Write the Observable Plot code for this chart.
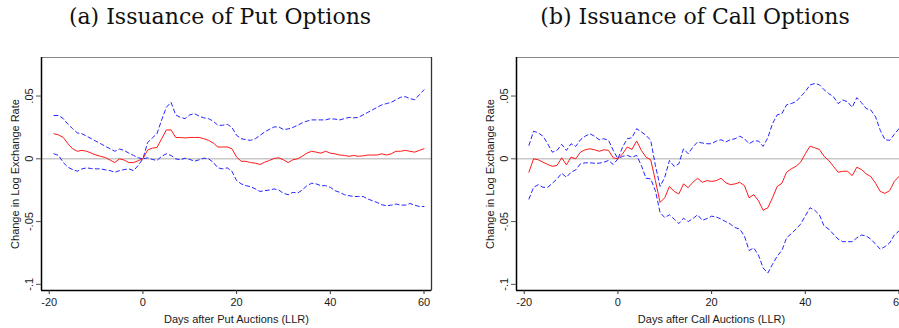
<!DOCTYPE html>
<html>
<head>
<meta charset="utf-8">
<script src="https://cdn.jsdelivr.net/npm/d3@7"></script>
<script src="https://cdn.jsdelivr.net/npm/@observablehq/plot@0.6"></script>
<style>
  html, body { margin: 0; padding: 0; background: #fff; }
  body { width: 899px; height: 328px; overflow: hidden; position: relative; }
  .panel { position: absolute; top: 0; width: 445px; height: 328px; }
  .title { position: absolute; top: 0; left: 0; width: 440px; height: 40px; line-height: 34px;
           text-align: center; font-family: "DejaVu Serif", serif; font-size: 22px; color: #111; white-space: nowrap; }
  .chart { position: absolute; top: 40px; left: 0; }
</style>
</head>
<body>
<div class="panel" id="pa" style="left:0px"><div class="title" id="ta"></div><div class="chart" id="ca"></div></div>
<div class="panel" id="pb" style="left:475px"><div class="title" id="tb"></div><div class="chart" id="cb"></div></div>
<script>
const titles = ["(a) Issuance of Put Options", "(b) Issuance of Call Options"];
const xTitles = ["Days after Put Auctions (LLR)", "Days after Call Auctions (LLR)"];
const yTitle = "Change in Log Exchange Rate";
const xTicks = [-20, 0, 20, 40, 60];
const xTickLabels = ["-20", "0", "20", "40", "60"];
const yTicks = [0.05, 0, -0.05, -0.1];
const yTickLabels = [".05", "0", "-.05", "-.1"];

const days = [-19,-18,-17,-16,-15,-14,-13,-12,-11,-10,-9,-8,-7,-6,-5,-4,-3,-2,-1,0,
  1,2,3,4,5,6,7,8,9,10,11,12,13,14,15,16,17,18,19,20,
  21,22,23,24,25,26,27,28,29,30,31,32,33,34,35,36,37,38,39,40,
  41,42,43,44,45,46,47,48,49,50,51,52,53,54,55,56,57,58,59,60];

const putEst = [0.020,0.019,0.017,0.012,0.008,0.006,0.0067,0.006,0.0045,0.003,0.002,0.001,-0.001,-0.003,0,-0.001,-0.003,-0.003,-0.0015,0,
  0.007,0.0085,0.009,0.016,0.023,0.023,0.017,0.017,0.0166,0.017,0.017,0.017,0.016,0.0147,0.0126,0.0094,0.0094,0.0094,0.008,0.0013,
  -0.002,-0.002,-0.003,-0.0035,-0.0045,-0.0027,-0.0013,0.0003,0.0008,-0.0008,-0.003,-0.0008,0,0.002,0.0045,0.006,0.0053,0.0045,0.006,0.0045,
  0.004,0.003,0.0027,0.002,0.0027,0.002,0.0024,0.003,0.003,0.003,0.004,0.003,0.004,0.006,0.006,0.0067,0.006,0.0053,0.0067,0.008];
const putUpper = [0.0345,0.0345,0.032,0.0275,0.024,0.0206,0.020,0.018,0.016,0.014,0.012,0.0099,0.008,0.006,0.0078,0.0067,0.0045,0.0027,0.0008,0,
  0.013,0.0166,0.020,0.031,0.041,0.045,0.035,0.033,0.032,0.035,0.036,0.034,0.0326,0.032,0.030,0.0267,0.0267,0.0275,0.025,0.0187,
  0.016,0.0152,0.0147,0.016,0.0187,0.0214,0.0235,0.0254,0.0254,0.0233,0.0238,0.025,0.0267,0.0286,0.030,0.031,0.031,0.031,0.031,0.032,
  0.0316,0.031,0.032,0.033,0.0326,0.033,0.035,0.037,0.039,0.041,0.043,0.044,0.045,0.047,0.049,0.0495,0.048,0.047,0.051,0.055];
const putLower = [0.004,0.0027,-0.003,-0.0067,-0.0086,-0.0099,-0.008,-0.0072,-0.0078,-0.008,-0.008,-0.0088,-0.0094,-0.0107,-0.0094,-0.0086,-0.008,-0.0094,-0.0053,0,
  0.0008,-0.0005,-0.0013,0.002,0.004,0.0027,0,-0.0008,0.0005,-0.0005,-0.0019,-0.0008,0.0005,0,-0.0027,-0.0072,-0.008,-0.0072,-0.0099,-0.0174,
  -0.020,-0.0214,-0.0222,-0.024,-0.026,-0.0254,-0.0249,-0.024,-0.0249,-0.0275,-0.0286,-0.0267,-0.0273,-0.0249,-0.0214,-0.0195,-0.020,-0.0214,-0.0214,-0.0227,
  -0.0254,-0.0267,-0.0286,-0.0294,-0.030,-0.030,-0.030,-0.032,-0.0334,-0.0348,-0.0366,-0.0374,-0.0369,-0.036,-0.0369,-0.0369,-0.0356,-0.0369,-0.038,-0.038];

const callEst = [-0.0107,0,-0.0008,-0.0027,-0.0045,-0.006,-0.0053,0.0008,-0.0048,0.0013,0,0.0053,0.0072,0.008,0.0072,0.006,0.0072,0.0067,0.0008,0,
  0.004,0.0094,0.0075,0.0142,0.0067,0.0013,-0.0008,-0.0174,-0.0348,-0.031,-0.022,-0.026,-0.028,-0.020,-0.023,-0.0187,-0.0155,-0.0187,-0.0174,-0.018,
  -0.0174,-0.0155,-0.019,-0.0206,-0.020,-0.0187,-0.0214,-0.031,-0.0286,-0.0334,-0.041,-0.039,-0.031,-0.022,-0.0195,-0.0107,-0.008,-0.006,-0.0027,0.004,
  0.010,0.0088,0.0075,0.002,-0.0013,-0.006,-0.0107,-0.0099,-0.0099,-0.0134,-0.0067,-0.0086,-0.012,-0.0142,-0.0195,-0.026,-0.0275,-0.0254,-0.018,-0.014];
const callUpper = [0.0107,0.022,0.0206,0.018,0.012,0.0053,0.0067,0.0115,0.0067,0.012,0.0099,0.0152,0.018,0.020,0.018,0.0152,0.016,0.0147,0.0067,0,
  0.0094,0.016,0.0168,0.024,0.0214,0.0187,0.0147,-0.0053,-0.022,-0.0147,-0.0013,-0.006,-0.004,0.008,0.004,0.0094,0.0134,0.0126,0.012,0.012,
  0.0142,0.0152,0.0134,0.0152,0.016,0.018,0.016,0.012,0.0142,0.0142,0.0099,0.0168,0.028,0.035,0.036,0.043,0.044,0.0455,0.0495,0.0535,
  0.0588,0.060,0.059,0.055,0.052,0.0495,0.044,0.0468,0.0455,0.041,0.0487,0.0447,0.040,0.0388,0.0334,0.0227,0.0152,0.0147,0.0195,0.024];
const callLower = [-0.032,-0.0227,-0.0206,-0.0227,-0.0227,-0.0195,-0.016,-0.0115,-0.0147,-0.0107,-0.0088,-0.004,-0.0032,-0.0032,-0.0035,-0.0035,-0.0027,-0.0013,-0.0045,0,
  0.002,0.0027,0.0013,0.0027,-0.0053,-0.0155,-0.016,-0.0254,-0.0428,-0.0468,-0.0446,-0.048,-0.0516,-0.0473,-0.050,-0.0476,-0.0446,-0.049,-0.0476,-0.0457,
  -0.0463,-0.048,-0.050,-0.052,-0.0548,-0.056,-0.0615,-0.073,-0.071,-0.0767,-0.087,-0.091,-0.084,-0.0775,-0.073,-0.063,-0.0596,-0.056,-0.052,-0.0455,
  -0.039,-0.041,-0.0446,-0.0535,-0.056,-0.060,-0.064,-0.066,-0.066,-0.066,-0.063,-0.0607,-0.0615,-0.064,-0.068,-0.072,-0.070,-0.067,-0.0607,-0.0575];

const xDomain = [-21.65, 61.6];
const yDomain = [-0.1049, 0.0807];

function panel(est, upper, lower, xTitle) {
  const rows = days.map((d, i) => ({d, est: est[i], up: upper[i], lo: lower[i]}));
  const font = "Liberation Sans, Arial, sans-serif";
  return Plot.plot({
    width: 445,
    height: 288,
    marginLeft: 41,
    marginRight: 14,
    marginTop: 17,
    marginBottom: 38,
    style: {fontFamily: font, fontSize: "11px", color: "#1a1a1a", background: "#fff", overflow: "visible"},
    x: {domain: xDomain},
    y: {domain: yDomain},
    marks: [
      Plot.ruleY([0], {stroke: "#c8c8c8", strokeWidth: 1.5}),
      Plot.lineY(rows, {x: "d", y: "up", stroke: "#0000ff", strokeWidth: 1, strokeDasharray: "4,3", strokeOpacity: 0.85}),
      Plot.lineY(rows, {x: "d", y: "lo", stroke: "#0000ff", strokeWidth: 1, strokeDasharray: "4,3", strokeOpacity: 0.85}),
      Plot.lineY(rows, {x: "d", y: "est", stroke: "#ff0000", strokeWidth: 1, strokeOpacity: 0.9}),
      Plot.frame({stroke: "#888", strokeWidth: 1}),
      Plot.ruleX([xDomain[1]], {stroke: "#333", strokeWidth: 1.3}),
      Plot.ruleX([xDomain[0]], {stroke: "#000", strokeWidth: 1.5}),
      Plot.ruleY([yDomain[0]], {stroke: "#000", strokeWidth: 1.5}),
      Plot.axisX({ticks: xTicks, tickSize: 4, tickPadding: 4, tickFormat: (d) => xTickLabels[xTicks.indexOf(d)], label: null, stroke: "#333"}),
      Plot.axisY({ticks: yTicks, tickSize: 5, tickFormat: () => "", label: null, stroke: "#555"}),
      Plot.text(yTicks, {y: (d) => d, text: (d, i) => yTickLabels[i], frameAnchor: "left", textAnchor: "middle", dx: -12, rotate: -90, fill: "#1a1a1a"}),
      Plot.text([yTitle], {frameAnchor: "left", textAnchor: "middle", dx: -26, rotate: -90, fill: "#1a1a1a"}),
      Plot.text([xTitle], {frameAnchor: "bottom", textAnchor: "middle", dy: 32, fill: "#1a1a1a"})
    ]
  });
}

document.getElementById("ta").textContent = titles[0];
document.getElementById("tb").textContent = titles[1];
document.getElementById("ca").appendChild(panel(putEst, putUpper, putLower, xTitles[0]));
document.getElementById("cb").appendChild(panel(callEst, callUpper, callLower, xTitles[1]));
</script>
</body>
</html>
